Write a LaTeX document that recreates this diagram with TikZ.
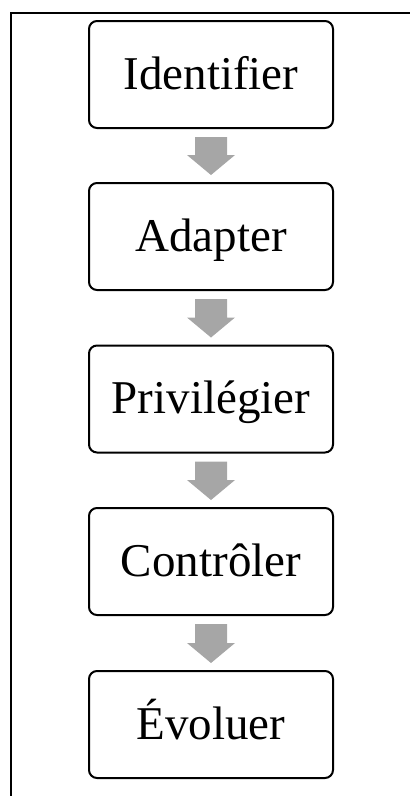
\documentclass[tikz,border=0pt]{standalone}
\usepackage{fontspec}
\setmainfont{Liberation Serif}
\usetikzlibrary{calc}
\definecolor{arrowgray}{HTML}{A6A6A6}
\tikzset{
  stepbox/.style={draw=black, line width=2pt, rounded corners=8pt,
    minimum width=244pt, minimum height=107pt, inner sep=0pt,
    text height=32pt, text depth=3pt,
    font=\fontsize{47}{56}\selectfont},
  blockarrow/.style={fill=arrowgray, draw=none},
  frameline/.style={draw=black, line width=2pt}
}
% block arrow from the bottom of one box to the top of the next
\newcommand{\flowarrow}[2]{%
  \fill[blockarrow]
    ($(#1.south)+(-16,8)$) -- ($(#1.south)+(16,8)$) --
    ($(#2.north)+(16,-27)$) -- ($(#2.north)+(24,-27)$) --
    ($(#2.north)+(0,-7)$) -- ($(#2.north)+(-24,-27)$) --
    ($(#2.north)+(-16,-27)$) -- cycle;}
\begin{document}
\begin{tikzpicture}[x=1pt,y=-1pt]
  \useasboundingbox (0,0) rectangle (410,796);
  \begin{scope}
    \clip (0,0) rectangle (410,796);
    \draw[frameline] (11,800) -- (11,13) -- (415,13);
  \end{scope}
  \node[stepbox] (s1) at (211,74.5) {Identifier};
  \node[stepbox] (s2) at (211,236.5) {Adapter};
  \node[stepbox] (s3) at (211,399) {Privilégier};
  \node[stepbox] (s4) at (211,561.5) {Contrôler};
  \node[stepbox] (s5) at (211,724.5) {Évoluer};
  \flowarrow{s1}{s2}
  \flowarrow{s2}{s3}
  \flowarrow{s3}{s4}
  \flowarrow{s4}{s5}
\end{tikzpicture}
\end{document}
